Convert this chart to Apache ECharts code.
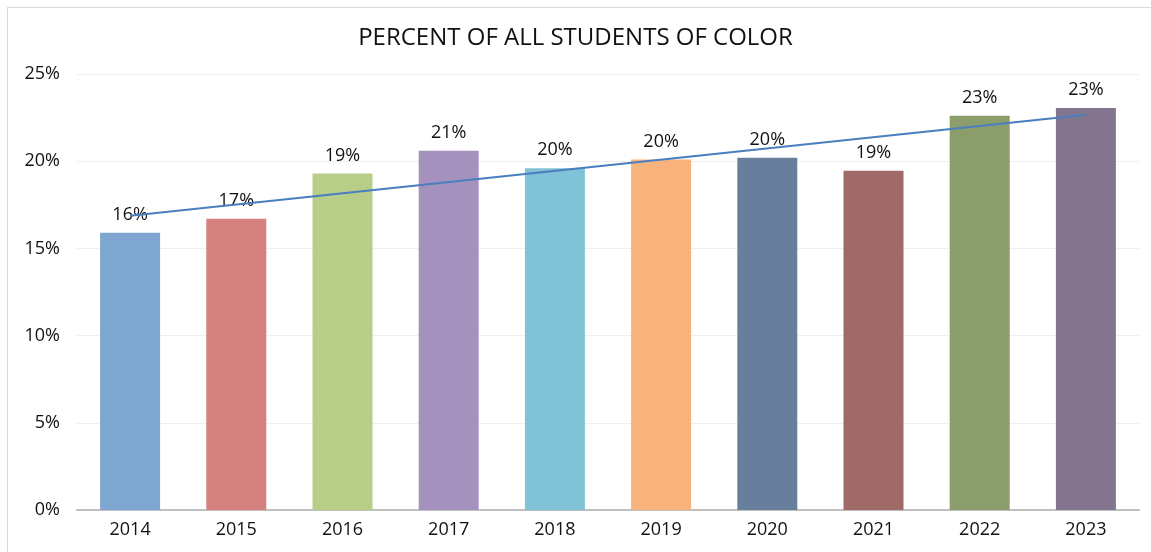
<!DOCTYPE html>
<html>
<head>
<meta charset="utf-8">
<script src="https://cdn.jsdelivr.net/npm/echarts@6/dist/echarts.min.js"></script>
<style>
	html, body { margin: 0; padding: 0; background: #fff; }
	#frame { position: absolute; left: 7px; top: 7px; width: 1160px; height: 560px; border: 1px solid #d9d9d9; box-sizing: border-box; }
	#mainChart { position: absolute; left: 0; top: 0; width: 1151px; height: 552px; }
</style>
</head>
<body>
<div id="frame"></div>
<div id="mainChart"></div>
<script>
	var years = ['2014', '2015', '2016', '2017', '2018', '2019', '2020', '2021', '2022', '2023'];
	var percents = [15.9, 16.7, 19.3, 20.6, 19.6, 20.1, 20.2, 19.45, 22.6, 23.05];
	var barColors = ['#7fa6d1', '#d4817f', '#b8ce88', '#a591bd', '#80c3d6', '#f8b37d', '#677f9c', '#a06a69', '#8b9d6b', '#83758e'];
	// linear trendline end points as shown on the chart
	var trendEnds = [16.87, 22.66];
	var yTicks = [0, 5, 10, 15, 20, 25];

	var font = '"Open Sans", "Noto Sans", sans-serif';

	var options = {
		animation: false,
		title: {
			text: 'PERCENT OF ALL STUDENTS OF COLOR',
			left: 'center',
			top: 21,
			textStyle: { fontFamily: font, fontSize: 24, fontWeight: 'normal', color: '#111' }
		},
		grid: { left: 77, right: 12, top: 74, bottom: 42 },
		xAxis: {
			type: 'category',
			data: years,
			axisTick: { show: false },
			axisLine: { lineStyle: { color: '#bfbfbf', width: 2 } },
			axisLabel: { color: '#111', fontFamily: font, fontSize: 18, margin: 11 }
		},
		yAxis: {
			type: 'value',
			min: yTicks[0],
			max: yTicks[yTicks.length - 1],
			interval: 5,
			axisLine: { show: false },
			axisTick: { show: false },
			splitLine: { lineStyle: { color: '#efefef', width: 1 } },
			axisLabel: {
				color: '#111', fontFamily: font, fontSize: 18, margin: 17,
				formatter: function (v) { return v + '%'; }
			}
		},
		series: [{
			type: 'bar',
			barWidth: 60,
			data: percents.map(function (v, i) {
				return { value: v, itemStyle: { color: barColors[i] } };
			}),
			label: {
				show: true,
				position: 'top',
				distance: 9,
				color: '#111',
				fontFamily: font,
				fontSize: 18,
				formatter: function (p) { return Math.round(p.value) + '%'; }
			},
			markLine: {
				silent: true,
				symbol: ['none', 'none'],
				label: { show: false },
				lineStyle: { color: '#4a7ebf', width: 2, type: 'solid' },
				data: [[
					{ coord: [years[0], trendEnds[0]] },
					{ coord: [years[years.length - 1], trendEnds[1]] }
				]]
			}
		}]
	};

	var chart = echarts.init(document.getElementById('mainChart'));
	chart.setOption(options);
</script>
</body>
</html>
